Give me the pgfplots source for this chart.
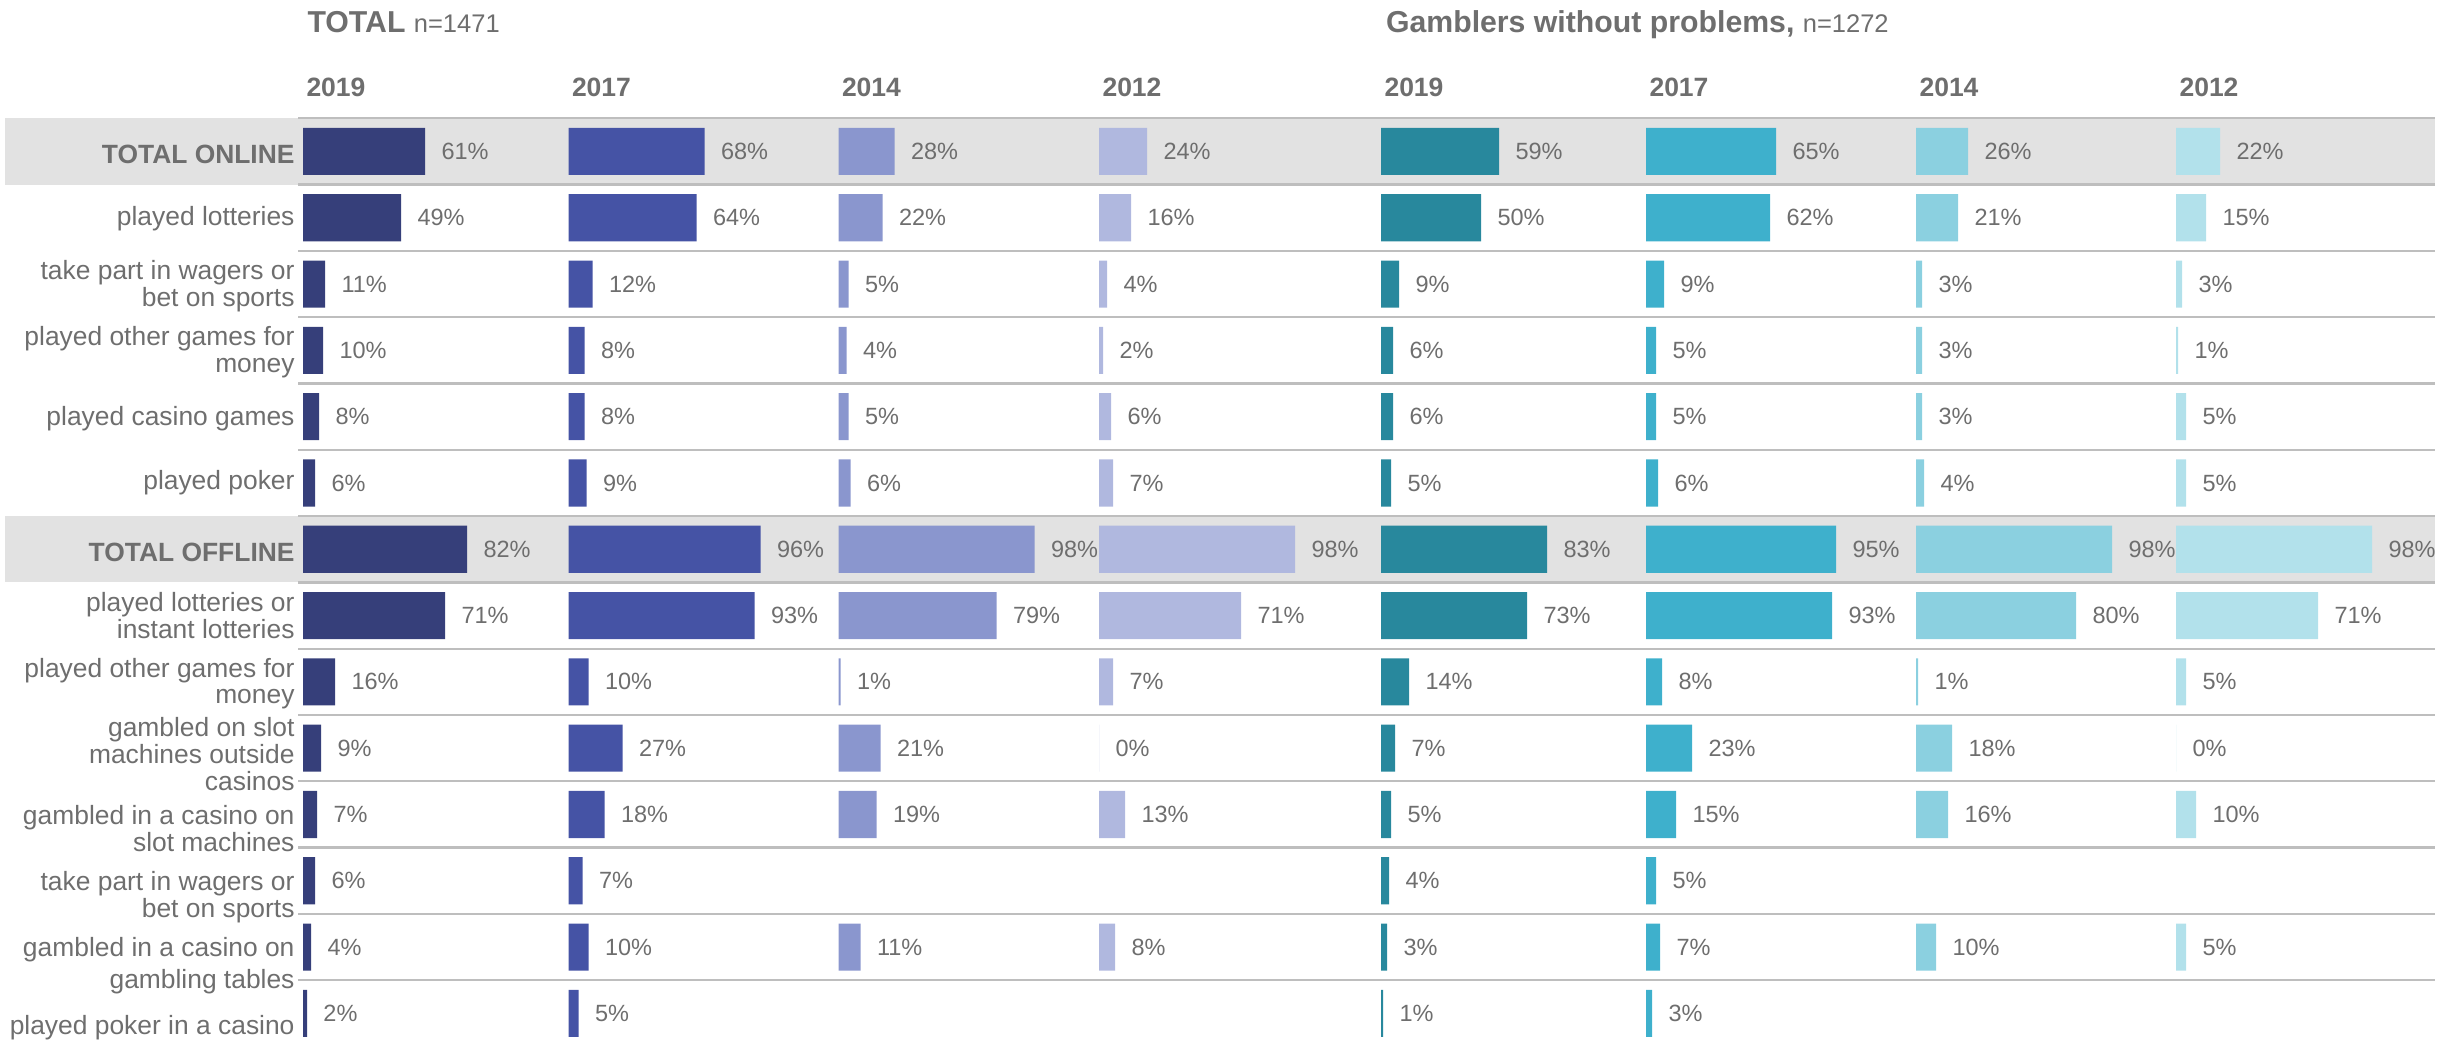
\documentclass[border=0pt]{standalone}
\usepackage{pgfplots}
\pgfplotsset{compat=1.18}
\usepackage{fontspec}
\setmainfont{Liberation Sans}
\definecolor{txt}{HTML}{6E6E6E}
\definecolor{band}{HTML}{E2E2E2}
\definecolor{sep}{HTML}{BEBEBE}
\definecolor{ta}{HTML}{363F7A}
\definecolor{tb}{HTML}{4553A5}
\definecolor{tc}{HTML}{8A96CE}
\definecolor{td}{HTML}{B0B8DF}
\definecolor{ga}{HTML}{28889D}
\definecolor{gb}{HTML}{3EB0CC}
\definecolor{gc}{HTML}{8BD0E0}
\definecolor{gd}{HTML}{B2E1EB}
\newcommand{\lblfont}{\fontsize{10.56}{10.5}\selectfont}
\newcommand{\lbl}[2]{\raisebox{-#1}[0pt][0pt]{\begin{tabular}[t]{@{}r@{}}#2\end{tabular}}}
\pgfplotsset{panel/.style={
  x=0.8pt, y=26.52pt, y dir=reverse, xmin=0, xmax=130, ymin=-0.5, ymax=13.5,
  anchor=north west,
  axis line style={draw=none}, xtick=\empty, ytick=\empty,
  major tick length=0pt, tick style={draw=none},
  clip=false, enlargelimits=false,
  xbar, bar width=0.71,
  /pgf/number format/assume math mode=true,
  /pgf/number format/fixed, /pgf/number format/precision=0,
  nodes near coords={\pgfmathprintnumber{\pgfplotspointmeta}\%},
  nodes near coords style={font=\fontsize{9.4}{11}\selectfont, text=txt, anchor=west, inner sep=0pt, xshift=6.4pt},
}}
\begin{document}
\begin{tikzpicture}
\useasboundingbox (0pt,47.32pt) rectangle (981.2pt,-375.5pt);
% background bands and separators
\begin{axis}[x=0.4pt, y=26.52pt, y dir=reverse, xmin=0, xmax=2453, ymin=-0.5, ymax=13.5,
  anchor=north west, at={(0pt,0pt)}, hide axis, clip=false]
\fill[band] (axis cs:5,-0.5) rectangle (axis cs:2435,0.5);
\fill[band] (axis cs:5,5.5) rectangle (axis cs:2435,6.5);
\draw[sep, line width=0.9pt] (axis cs:298,-0.5) -- (axis cs:2435,-0.5);
\draw[sep, line width=0.9pt] (axis cs:298,0.5) -- (axis cs:2435,0.5);
\draw[sep, line width=0.9pt] (axis cs:298,1.5) -- (axis cs:2435,1.5);
\draw[sep, line width=0.9pt] (axis cs:298,2.5) -- (axis cs:2435,2.5);
\draw[sep, line width=0.9pt] (axis cs:298,3.5) -- (axis cs:2435,3.5);
\draw[sep, line width=0.9pt] (axis cs:298,4.5) -- (axis cs:2435,4.5);
\draw[sep, line width=0.9pt] (axis cs:298,5.5) -- (axis cs:2435,5.5);
\draw[sep, line width=0.9pt] (axis cs:298,6.5) -- (axis cs:2435,6.5);
\draw[sep, line width=0.9pt] (axis cs:298,7.5) -- (axis cs:2435,7.5);
\draw[sep, line width=0.9pt] (axis cs:298,8.5) -- (axis cs:2435,8.5);
\draw[sep, line width=0.9pt] (axis cs:298,9.5) -- (axis cs:2435,9.5);
\draw[sep, line width=0.9pt] (axis cs:298,10.5) -- (axis cs:2435,10.5);
\draw[sep, line width=0.9pt] (axis cs:298,11.5) -- (axis cs:2435,11.5);
\draw[sep, line width=0.9pt] (axis cs:298,12.5) -- (axis cs:2435,12.5);
\end{axis}
% TOTAL 2019 (with row labels)
\begin{axis}[panel, at={(121.2pt,0pt)},
  ytick={0,1,2,3,4,5,6,7,8,9,10,11,12,13},
  yticklabels={
    {\lbl{5pt}{\bfseries TOTAL ONLINE}},
    {\lbl{3.2pt}{played lotteries}},
    {\lbl{-1.8pt}{take part in wagers or\\bet on sports}},
    {\lbl{-1.8pt}{played other games for\\money}},
    {\lbl{3.4pt}{played casino games}},
    {\lbl{2.8pt}{played poker}},
    {\lbl{4.8pt}{\bfseries TOTAL OFFLINE}},
    {\lbl{-1.8pt}{played lotteries or\\instant lotteries}},
    {\lbl{-1.7pt}{played other games for\\money}},
    {\lbl{-4.6pt}{gambled on slot\\machines outside\\casinos}},
    {\lbl{4.2pt}{gambled in a casino on\\slot machines}},
    {\lbl{3.7pt}{take part in wagers or\\bet on sports}},
    {\lbl{3.9pt}{gambled in a casino on\\[1.7pt]gambling tables}},
    {\lbl{8.6pt}{played poker in a casino}}},
  yticklabel style={font=\lblfont, text=txt, anchor=east, inner sep=0pt, xshift=-3.2pt}]
\addplot[fill=ta, draw=none] coordinates {(61,0) (49,1) (11,2) (10,3) (8,4) (6,5) (82,6) (71,7) (16,8) (9,9) (7,10) (6,11) (4,12) (2,13)};
\end{axis}
% TOTAL 2017
\begin{axis}[panel, at={(227.4pt,0pt)}]
\addplot[fill=tb, draw=none] coordinates {(68,0) (64,1) (12,2) (8,3) (8,4) (9,5) (96,6) (93,7) (10,8) (27,9) (18,10) (7,11) (10,12) (5,13)};
\end{axis}
% TOTAL 2014
\begin{axis}[panel, at={(335.4pt,0pt)}]
\addplot[fill=tc, draw=none] coordinates {(28,0) (22,1) (5,2) (4,3) (5,4) (6,5) (98,6) (79,7) (1,8) (21,9) (19,10) (11,12)};
\end{axis}
% TOTAL 2012
\begin{axis}[panel, at={(439.6pt,0pt)}]
\addplot[fill=td, draw=none] coordinates {(24,0) (16,1) (4,2) (2,3) (6,4) (7,5) (98,6) (71,7) (7,8) (0,9) (13,10) (8,12)};
\end{axis}
% GWP 2019
\begin{axis}[panel, at={(552.4pt,0pt)}]
\addplot[fill=ga, draw=none] coordinates {(59,0) (50,1) (9,2) (6,3) (6,4) (5,5) (83,6) (73,7) (14,8) (7,9) (5,10) (4,11) (3,12) (1,13)};
\end{axis}
% GWP 2017
\begin{axis}[panel, at={(658.4pt,0pt)}]
\addplot[fill=gb, draw=none] coordinates {(65,0) (62,1) (9,2) (5,3) (5,4) (6,5) (95,6) (93,7) (8,8) (23,9) (15,10) (5,11) (7,12) (3,13)};
\end{axis}
% GWP 2014
\begin{axis}[panel, at={(766.4pt,0pt)}]
\addplot[fill=gc, draw=none] coordinates {(26,0) (21,1) (3,2) (3,3) (3,4) (4,5) (98,6) (80,7) (1,8) (18,9) (16,10) (10,12)};
\end{axis}
% GWP 2012
\begin{axis}[panel, at={(870.4pt,0pt)}]
\addplot[fill=gd, draw=none] coordinates {(22,0) (15,1) (3,2) (1,3) (5,4) (5,5) (98,6) (71,7) (5,8) (0,9) (10,10) (5,12)};
\end{axis}
% headings
\node[anchor=base west, inner sep=0pt, text=txt] at (122.8pt,34.5pt) {\fontsize{12.1}{14}\selectfont\bfseries TOTAL \fontsize{10.2}{12}\selectfont\mdseries n=1471};
\node[anchor=base west, inner sep=0pt, text=txt] at (554.2pt,34.5pt) {\fontsize{12.1}{14}\selectfont\bfseries Gamblers without problems, \fontsize{10.2}{12}\selectfont\mdseries n=1272};
\node[anchor=base west, inner sep=0pt, text=txt, font=\fontsize{10.6}{12}\selectfont\bfseries] at (122.4pt,8.9pt) {2019};
\node[anchor=base west, inner sep=0pt, text=txt, font=\fontsize{10.6}{12}\selectfont\bfseries] at (228.6pt,8.9pt) {2017};
\node[anchor=base west, inner sep=0pt, text=txt, font=\fontsize{10.6}{12}\selectfont\bfseries] at (336.6pt,8.9pt) {2014};
\node[anchor=base west, inner sep=0pt, text=txt, font=\fontsize{10.6}{12}\selectfont\bfseries] at (440.8pt,8.9pt) {2012};
\node[anchor=base west, inner sep=0pt, text=txt, font=\fontsize{10.6}{12}\selectfont\bfseries] at (553.6pt,8.9pt) {2019};
\node[anchor=base west, inner sep=0pt, text=txt, font=\fontsize{10.6}{12}\selectfont\bfseries] at (659.6pt,8.9pt) {2017};
\node[anchor=base west, inner sep=0pt, text=txt, font=\fontsize{10.6}{12}\selectfont\bfseries] at (767.6pt,8.9pt) {2014};
\node[anchor=base west, inner sep=0pt, text=txt, font=\fontsize{10.6}{12}\selectfont\bfseries] at (871.6pt,8.9pt) {2012};
\end{tikzpicture}
\end{document}
